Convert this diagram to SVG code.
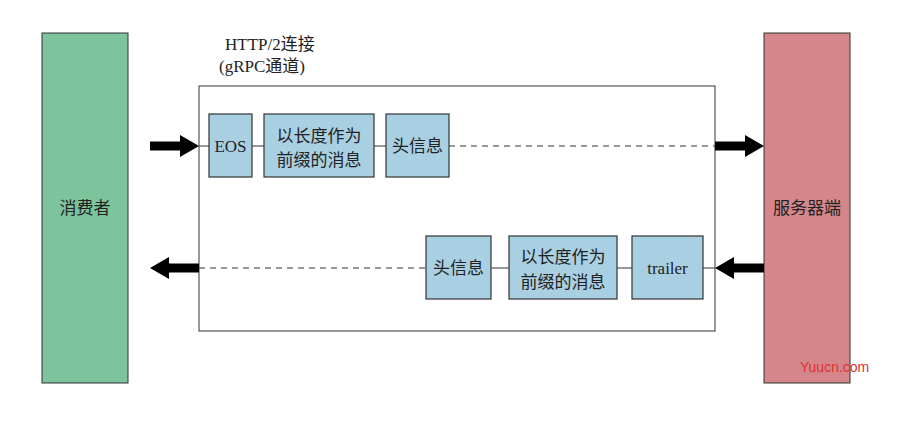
<svg xmlns="http://www.w3.org/2000/svg" width="919" height="422" viewBox="0 0 919 422">
<style>
text{font-family:"Liberation Serif","Noto Sans CJK SC",serif;font-size:17px;fill:#222}
.b{fill:#a9cfe3;stroke:#333;stroke-width:1.2}
.l{stroke:#333;stroke-width:1}
.d{stroke:#333;stroke-width:1;stroke-dasharray:6,5}
.a{stroke:#000;stroke-width:9}
.h{fill:#000}
</style>
<rect width="919" height="422" fill="#fff"/>
<g id="consumer"><rect x="42" y="33" width="86" height="350" fill="#7dc39b" stroke="#333"/><text x="85" y="214" text-anchor="middle">消费者</text></g>
<g id="server"><rect x="764" y="33" width="86" height="350" fill="#d4868a" stroke="#333"/><text x="807" y="214" text-anchor="middle">服务器端</text></g>
<g id="channel"><rect x="199" y="86" width="516" height="245" fill="#fff" stroke="#333"/>
<text x="225" y="50">HTTP/2连接</text><text x="219" y="72">(gRPC通道)</text></g>
<g id="eos"><rect class="b" x="209" y="114" width="43" height="63"/><text x="230.5" y="152" text-anchor="middle">EOS</text></g>
<g id="msg1"><rect class="b" x="264" y="114" width="110" height="63"/><text x="319" y="142" text-anchor="middle">以长度作为</text><text x="319" y="166" text-anchor="middle">前缀的消息</text></g>
<g id="hdr1"><rect class="b" x="386" y="114" width="63" height="63"/><text x="417.5" y="152" text-anchor="middle">头信息</text></g>
<g id="hdr2"><rect class="b" x="426" y="236" width="65" height="63"/><text x="458.5" y="274" text-anchor="middle">头信息</text></g>
<g id="msg2"><rect class="b" x="509" y="236" width="108" height="63"/><text x="563" y="263" text-anchor="middle">以长度作为</text><text x="563" y="288" text-anchor="middle">前缀的消息</text></g>
<g id="trailer"><rect class="b" x="632" y="236" width="71" height="63"/><text x="667.5" y="274" text-anchor="middle">trailer</text></g>
<g id="connectors">
<line class="l" x1="199" y1="146" x2="209" y2="146"/><line class="l" x1="252" y1="146" x2="264" y2="146"/><line class="l" x1="374" y1="146" x2="386" y2="146"/>
<line class="d" x1="449" y1="146" x2="715" y2="146"/>
<line class="d" x1="199" y1="268" x2="426" y2="268"/>
<line class="l" x1="491" y1="268" x2="509" y2="268"/><line class="l" x1="617" y1="268" x2="632" y2="268"/><line class="l" x1="703" y1="268" x2="715" y2="268"/>
<line class="a" x1="150" y1="146" x2="182" y2="146"/><polygon class="h" points="180,135 199,146 180,157"/>
<line class="a" x1="715" y1="146" x2="747" y2="146"/><polygon class="h" points="745,135 764,146 745,157"/>
<line class="a" x1="199" y1="268" x2="167" y2="268"/><polygon class="h" points="169,257 150,268 169,279"/>
<line class="a" x1="764" y1="268" x2="732" y2="268"/><polygon class="h" points="734,257 715,268 734,279"/>
</g>
<text x="800" y="372" style="font-family:'Liberation Sans',sans-serif;font-size:14px;fill:#e03030">Yuucn.com</text>
</svg>
